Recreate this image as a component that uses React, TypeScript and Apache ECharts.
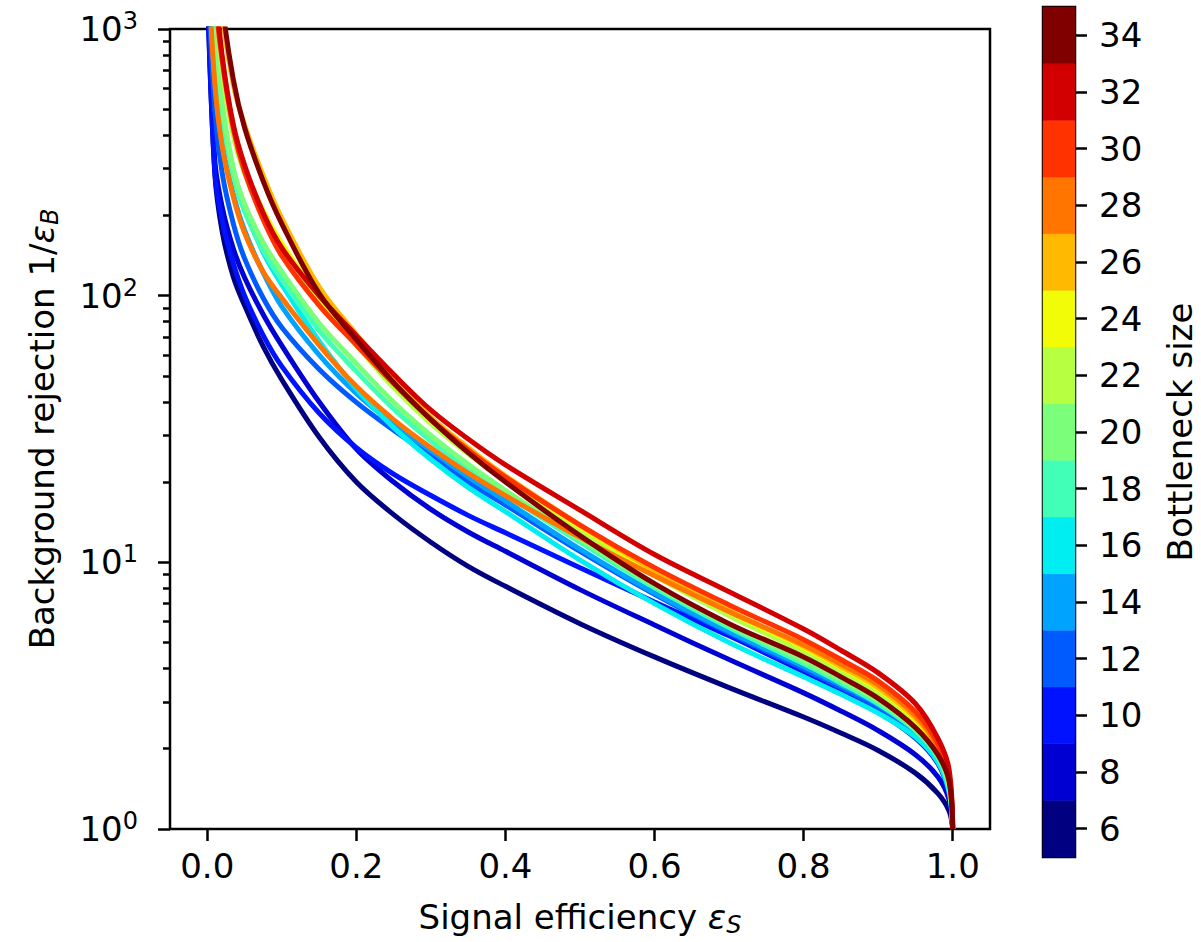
import React, { useEffect, useRef } from 'react';
import * as echarts from 'echarts';

// Signal efficiency grid shared by all curves
const EFF = [0, 0.01, 0.02, 0.035, 0.05, 0.075, 0.1, 0.15, 0.2, 0.25, 0.3, 0.35, 0.4, 0.5, 0.6, 0.7, 0.8, 0.85, 0.9, 0.95, 0.98, 0.995, 1.0];

// Bottleneck sizes (one curve each)
const SIZES = [6, 8, 10, 12, 14, 16, 18, 20, 22, 24, 26, 28, 30, 32, 34];

// Background rejection 1/eps_B per bottleneck size
const R6 = [1500, 290, 174, 117.5, 92, 64.5, 48.4, 29.5, 20, 15.1, 11.9, 9.66, 8.13, 5.89, 4.42, 3.39, 2.63, 2.29, 1.97, 1.62, 1.36, 1.17, 1.0];
const R8 = [1700, 325, 215, 150, 117, 85, 65, 40, 26.6, 20.0, 15.8, 13.0, 11.0, 7.9, 5.82, 4.32, 3.24, 2.77, 2.34, 1.9, 1.57, 1.29, 1.0];
const R10 = [1600, 295, 190, 132, 100, 71, 54.3, 36.3, 26.9, 21.4, 17.8, 15.0, 12.9, 9.55, 7.1, 5.3, 3.89, 3.29, 2.75, 2.19, 1.76, 1.36, 1.0];
const R12 = [1800, 500, 288, 186, 138, 98, 76, 53, 39.8, 31.3, 25.1, 20.0, 16.4, 11.0, 7.59, 5.43, 3.98, 3.39, 2.85, 2.26, 1.82, 1.41, 1.0];
const R14 = [2000, 650, 370, 240, 176, 122, 91, 60, 43, 33, 26.3, 20.9, 17, 11.2, 7.67, 5.5, 4.07, 3.47, 2.92, 2.32, 1.84, 1.41, 1.0];
const R16 = [2500, 800, 450, 290, 214, 145, 110, 67.6, 44.7, 32, 24.3, 19.1, 15.5, 10.2, 7.0, 5.0, 3.72, 3.2, 2.72, 2.21, 1.78, 1.38, 1.0];
const R18 = [3000, 890, 480, 282, 207, 148, 115, 74, 52, 37.6, 28.5, 22.4, 18, 11.9, 8.04, 5.69, 4.17, 3.53, 2.95, 2.34, 1.86, 1.43, 1.0];
const R20 = [3500, 1000, 525, 300, 221, 158, 123, 79, 55.6, 39.8, 29.9, 23.3, 18.6, 12.2, 8.2, 5.82, 4.27, 3.61, 3.02, 2.37, 1.88, 1.45, 1.0];
const R22 = [5000, 1400, 708, 398, 288, 200, 151, 95.5, 65.3, 45.2, 33.1, 25.5, 20.2, 13.2, 8.91, 6.31, 4.62, 3.89, 3.24, 2.51, 1.95, 1.48, 1.0];
const R24 = [5000, 1500, 750, 417, 299, 209, 157, 99, 67.6, 47.3, 34.3, 26.4, 20.9, 13.6, 9.2, 6.53, 4.79, 4.03, 3.35, 2.57, 2.0, 1.51, 1.0];
const R26 = [8000, 2500, 1150, 617, 437, 282, 195, 108, 71.6, 49, 35, 26.9, 21.1, 13.8, 9.33, 6.6, 4.84, 4.07, 3.39, 2.6, 2.02, 1.53, 1.0];
const R28 = [2000, 630, 363, 234, 172, 123, 98, 65.3, 45.7, 34.3, 26.9, 21.6, 17.8, 12.4, 8.9, 6.53, 4.9, 4.15, 3.47, 2.66, 2.04, 1.55, 1.0];
const R30 = [5000, 1400, 760, 422, 292, 193, 141, 92, 65.3, 46.8, 34.3, 26.4, 20.9, 13.8, 9.55, 6.92, 5.13, 4.32, 3.59, 2.75, 2.09, 1.58, 1.0];
const R32 = [6000, 1585, 794, 437, 309, 204, 151, 100, 70.8, 50.7, 37.2, 29.0, 23.2, 15.7, 10.7, 7.76, 5.62, 4.68, 3.85, 2.95, 2.19, 1.68, 1.0];
const R34 = [10000, 2800, 1250, 645, 427, 269, 186, 102, 68.4, 47.3, 34.3, 25.8, 20, 12.6, 8.32, 5.89, 4.42, 3.72, 3.09, 2.4, 1.9, 1.51, 1.0];
const REJ = [R6, R8, R10, R12, R14, R16, R18, R20, R22, R24, R26, R28, R30, R32, R34];

// Discrete jet colours (one per bottleneck size bin)
const JET = ['#000080', '#0000d2', '#0012ff', '#005bff', '#00a4ff', '#00edf1', '#41ffb6', '#7bff7b', '#b6ff41', '#f1fc06', '#ffb900', '#ff7500', '#ff3200', '#d20000', '#800000'];

const X_TICKS = [0, 0.2, 0.4, 0.6, 0.8, 1.0];
const Y_TICKS = [1, 10, 100, 1000];
const Y_MINOR = [2, 3, 4, 5, 6, 7, 8, 9, 20, 30, 40, 50, 60, 70, 80, 90, 200, 300, 400, 500, 600, 700, 800, 900];
const CB_MIN = 5;
const CB_MAX = 35;

const FONT = 'DejaVu Sans';

export default function App() {
  const ref = useRef<HTMLDivElement>(null);
  useEffect(() => {
    const chart = echarts.init(ref.current as HTMLDivElement, null, { renderer: 'svg' });
    const tickStyle = { color: '#000', width: 2.5 };
    const series: any[] = SIZES.map((s, i) => ({
      type: 'line',
      name: String(s),
      xAxisIndex: 0,
      yAxisIndex: 0,
      data: EFF.map((x, j) => [x, REJ[i][j]]),
      showSymbol: false,
      symbol: 'none',
      smooth: 0.35,
      clip: true,
      silent: true,
      z: 2 + i,
      lineStyle: { color: JET[i], width: 5 },
    }));
    series.push({
      type: 'custom',
      xAxisIndex: 1,
      yAxisIndex: 2,
      silent: true,
      data: SIZES.map((s, i) => [s - 1, s + 1, i]),
      encode: { x: -1, y: [0, 1] },
      renderItem: (params: any, api: any) => {
        const lo = api.value(0);
        const hi = api.value(1);
        const idx = api.value(2);
        const p0 = api.coord([0, hi]);
        const p1 = api.coord([1, lo]);
        return {
          type: 'rect',
          shape: { x: p0[0], y: p0[1], width: p1[0] - p0[0], height: p1[1] - p0[1] },
          style: { fill: JET[idx], stroke: JET[idx], lineWidth: 0.5 },
        };
      },
    });

    const option: any = {
      animation: false,
      backgroundColor: '#fff',
      textStyle: { fontFamily: FONT },
      grid: [
        { left: 170, top: 29, width: 820, height: 801, show: true, borderColor: '#000', borderWidth: 2.5, backgroundColor: 'transparent' },
        { left: 1043, top: 7, width: 32, height: 850, show: true, borderColor: '#000', borderWidth: 2.5, backgroundColor: 'transparent' },
      ],
      xAxis: [
        {
          type: 'value',
          gridIndex: 0,
          min: -0.05,
          max: 1.05,
          axisLine: { show: false, onZero: false },
          axisTick: { show: true, customValues: X_TICKS, length: 12, lineStyle: tickStyle },
          axisLabel: {
            customValues: X_TICKS,
            formatter: (v: number) => v.toFixed(1),
            fontSize: 34,
            color: '#000',
            fontFamily: FONT,
            margin: 20,
          },
          splitLine: { show: false },
          name: 'Signal efficiency {e|ε}{s|S}',
          nameLocation: 'middle',
          nameGap: 68,
          nameTextStyle: {
            fontSize: 34,
            color: '#000',
            fontFamily: FONT,
            lineHeight: 40,
            rich: {
              e: { fontSize: 34, fontStyle: 'italic', fontFamily: FONT, color: '#000', lineHeight: 40 },
              s: { fontSize: 24, fontStyle: 'italic', fontFamily: FONT, color: '#000', lineHeight: 26, verticalAlign: 'bottom' },
            },
          },
        },
        { type: 'value', gridIndex: 1, min: 0, max: 1, show: false },
      ],
      yAxis: [
        {
          type: 'log',
          gridIndex: 0,
          logBase: 10,
          min: 1,
          max: 1000,
          axisLine: { show: false, onZero: false },
          axisTick: { show: true, customValues: Y_TICKS, length: 12, lineStyle: tickStyle },
          minorTick: { show: false },
          axisLabel: {
            customValues: Y_TICKS,
            formatter: (v: number) => `{b|10}{sup|${Math.round(Math.log10(v))}}`,
            margin: 32,
            rich: {
              b: { fontSize: 34, fontFamily: FONT, color: '#000', lineHeight: 40 },
              sup: { fontSize: 24, fontFamily: FONT, color: '#000', lineHeight: 26, verticalAlign: 'top' },
            },
          },
          splitLine: { show: false },
          name: 'Background rejection 1/{e|ε}{s|B}',
          nameLocation: 'middle',
          nameRotate: 90,
          nameGap: 108,
          nameTextStyle: {
            fontSize: 34,
            color: '#000',
            fontFamily: FONT,
            lineHeight: 40,
            rich: {
              e: { fontSize: 34, fontStyle: 'italic', fontFamily: FONT, color: '#000', lineHeight: 40 },
              s: { fontSize: 24, fontStyle: 'italic', fontFamily: FONT, color: '#000', lineHeight: 26, verticalAlign: 'bottom' },
            },
          },
        },
        {
          type: 'log',
          gridIndex: 0,
          logBase: 10,
          min: 1,
          max: 1000,
          position: 'left',
          axisLine: { show: false, onZero: false },
          axisTick: { show: true, customValues: Y_MINOR, length: 7, lineStyle: tickStyle },
          axisLabel: { show: false },
          splitLine: { show: false },
        },
        {
          type: 'value',
          gridIndex: 1,
          min: CB_MIN,
          max: CB_MAX,
          position: 'right',
          axisLine: { show: false, onZero: false },
          axisTick: { show: true, customValues: SIZES, length: 12, lineStyle: tickStyle },
          axisLabel: { customValues: SIZES, fontSize: 34, color: '#000', fontFamily: FONT, margin: 24 },
          splitLine: { show: false },
          name: 'Bottleneck size',
          nameLocation: 'middle',
          nameRotate: 90,
          nameGap: 88,
          nameTextStyle: { fontSize: 34, color: '#000', fontFamily: FONT },
        },
      ],
      series,
    };
    chart.setOption(option);
    return () => chart.dispose();
  }, []);
  return <div ref={ref} style={{ position: 'fixed', left: 0, top: 0, width: 1201, height: 942 }} />;
}
